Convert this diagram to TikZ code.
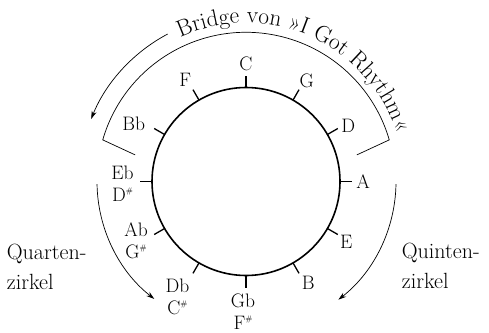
\documentclass[tikz,border=0pt]{standalone}
\usepackage{fontspec}
\usetikzlibrary{decorations.text,arrows.meta}
\newcommand{\shrp}{\raisebox{8bp}{\fontsize{8bp}{8bp}\selectfont\#}}
\begin{document}
\begin{tikzpicture}[x=1bp,y=1bp,
  lbl/.style={font=\fontsize{19.5bp}{21.7bp}\selectfont, inner sep=0pt, align=center},
  side/.style={font=\fontsize{22bp}{30bp}\selectfont, inner sep=0pt, align=left, anchor=north west},
  ring/.style={line width=1.6bp},
  tickline/.style={line width=1.3bp},
  thinline/.style={line width=0.7bp},
  arr/.style={thinline, -{Stealth[length=8bp,width=5bp]}}]
\useasboundingbox (0,0) rectangle (489,332);
\coordinate (O) at (246,150.5);
\node[draw, circle, ring, minimum size=188bp, inner sep=0pt] (circ) at (O) {};
\begin{scope}[shift={(O)}]
  \foreach \a in {0,30,...,330} \draw[tickline] (\a:94) -- (\a:106);
  % single labels
  \node[lbl] (nC) at (90:118) {C};
  \node[lbl] (nG) at (59:118) {G};
  \node[lbl] (nD) at (28.5:116.5) {D};
  \node[lbl] (nA) at (0:117) {A};
  \node[lbl] (nE) at (-31:117) {E};
  \node[lbl] (nB) at (-58.5:119) {B};
  \node[lbl] (nF) at (121:118) {F};
  \node[lbl] (nBb) at (153:126) {Bb};
  % bracket
  \coordinate (bl) at (166.5:114);
  \coordinate (br) at (13.5:114);
  \draw[thinline] (bl) -- (163.8:149.2) arc[start angle=163.8, end angle=16.2, radius=149.2] -- (br);
  % arc text
  \path[decorate, decoration={text along path, text align=left,
     text={|\fontsize{23.3bp}{25bp}\selectfont|Bridge von »I Got Rhythm«}}]
     (114.5:158.5) arc[start angle=114.5, end angle=0, radius=158.5];
  % arrows
  \coordinate (a1s) at (118:167);
  \coordinate (q1s) at (181:149);
  \coordinate (p1s) at (-1:150);
  \draw[arr] (a1s) arc[start angle=118, end angle=158, radius=167];
  \draw[arr] (q1s) arc[start angle=181, end angle=232, radius=149];
  \draw[arr] (p1s) arc[start angle=-1, end angle=-52, radius=150];
\end{scope}
\node[lbl] (nEb) at (122.5,148) {Eb\\D\shrp};
\node[lbl] (nAb) at (136,91.5) {Ab\\G\shrp};
\node[lbl] (nDb) at (177.5,35) {Db\\C\shrp};
\node[lbl] (nGb) at (243,20.5) {Gb\\F\shrp};
\node[side] (quart) at (6.7,88) {Quarten-\\zirkel};
\node[side] (quint) at (401.7,89) {Quinten-\\zirkel};
\end{tikzpicture}
\end{document}
